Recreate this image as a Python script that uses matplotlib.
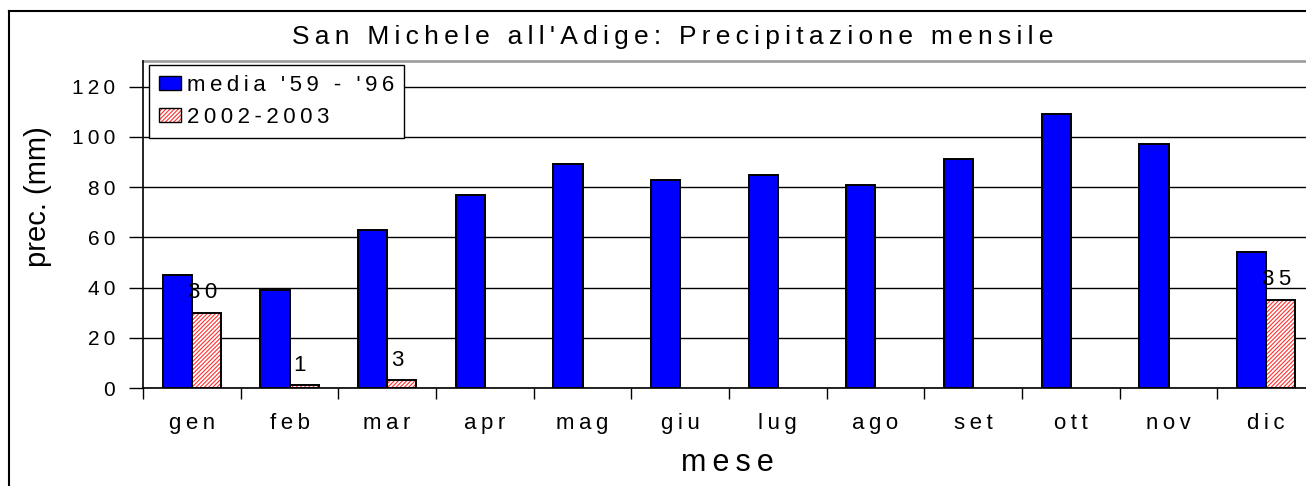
import matplotlib

matplotlib.use("Agg")

import matplotlib.pyplot as plt
import matplotlib.patches as mpatches
from matplotlib.lines import Line2D
import numpy as np

plt.rcParams["font.family"] = ["Liberation Sans", "DejaVu Sans"]
plt.rcParams["hatch.linewidth"] = 0.8

months = ["gen", "feb", "mar", "apr", "mag", "giu",
          "lug", "ago", "set", "ott", "nov", "dic"]
media_59_96 = [45, 39, 63, 77, 89, 83, 85, 81, 91, 109, 97, 54]
prec_2002_2003 = [30, 1, 3, np.nan, np.nan, np.nan,
                  np.nan, np.nan, np.nan, np.nan, np.nan, 35]
y_ticks = [0, 20, 40, 60, 80, 100, 120]

THIN = "\u2009"


def spaced(s):
    # wide letter spacing of the original chart
    return THIN.join(" " if c == " " else c for c in s)


W, H = 1306, 486
fig = plt.figure(figsize=(W / 100, H / 100), dpi=100)
ax = fig.add_axes([143 / W, 1 - 388 / H, 1172 / W, (388 - 61.5) / H])

x = np.arange(len(months))
bw = 0.3
ax.bar(x - bw / 2, media_59_96, bw, color="#0000ff", edgecolor="black",
       linewidth=1.4, zorder=3)
red = np.array(prec_2002_2003, dtype=float)
ax.bar(x + bw / 2, red, bw, color="white", edgecolor="#ff3030",
       hatch="////////", linewidth=0, zorder=3)
ax.bar(x + bw / 2, red, bw, fill=False, edgecolor="black", linewidth=1.4,
       zorder=4)

for xi, v in zip(x, red):
    if not np.isnan(v):
        ax.annotate(spaced(f"{v:.0f}"), (xi + bw / 2, v), xytext=(-3, 7),
                    textcoords="offset points", ha="center", va="bottom",
                    fontsize=16)

ax.set_xlim(-0.5, len(months) - 0.5)
ax.set_ylim(0, 130)
ax.set_yticks(y_ticks)
ax.set_yticklabels([spaced(str(t)) for t in y_ticks], fontsize=15)
ax.yaxis.grid(True, color="black", linewidth=1.0, zorder=0)
ax.set_axisbelow(True)

ax.set_xticks(np.arange(len(months) + 1) - 0.5)
ax.set_xticklabels([])
ax.set_xticks(x, minor=True)
ax.set_xticklabels([spaced(m) for m in months], minor=True, fontsize=16)
ax.tick_params(axis="x", which="major", length=8, width=1, direction="out")
ax.tick_params(axis="x", which="minor", length=0, pad=18)
ax.tick_params(axis="y", length=10, width=1, pad=10)

for side in ["top", "right"]:
    ax.spines[side].set_visible(False)
ax.spines["left"].set_linewidth(1.2)
ax.spines["bottom"].set_linewidth(1.2)
ax.axhline(130, color="#a0a0a0", linewidth=2.0, clip_on=False)

blue_patch = mpatches.Patch(facecolor="#0000ff", edgecolor="black",
                            linewidth=1.0)
red_fill = mpatches.Patch(facecolor="white", edgecolor="#ff3030",
                          hatch="////////", linewidth=0)
red_edge = mpatches.Patch(fill=False, edgecolor="black", linewidth=1.0)
leg = ax.legend([blue_patch, (red_fill, red_edge)],
                [spaced("media '59 - '96"), spaced("2002-2003")],
                loc="upper left", bbox_to_anchor=(149 / W, 1 - 65 / H),
                bbox_transform=fig.transFigure, fontsize=16, fancybox=False,
                framealpha=1, edgecolor="black", borderpad=0.45,
                labelspacing=0.5, handlelength=1.0, handleheight=0.6,
                handletextpad=0.25, borderaxespad=0)
leg.get_frame().set_linewidth(1.0)
leg.set_zorder(5)

fig.text(673 / W, 1 - 37 / H,
         spaced("San Michele all'Adige: Precipitazione mensile"),
         ha="center", va="center", fontsize=19)
fig.text(38 / W, 1 - 197 / H, "prec. (mm)", rotation=90,
         ha="center", va="center", fontsize=21)
fig.text(727 / W, 1 - 463 / H, spaced("mese"), ha="center", va="center",
         fontsize=22)

# outer chart frame
fig.add_artist(Line2D([9 / W, 1.0], [1 - 11 / H, 1 - 11 / H],
                      color="black", linewidth=1.5))
fig.add_artist(Line2D([9 / W, 9 / W], [0, 1 - 11 / H],
                      color="black", linewidth=1.5))

fig.savefig("out.png", dpi=100)
